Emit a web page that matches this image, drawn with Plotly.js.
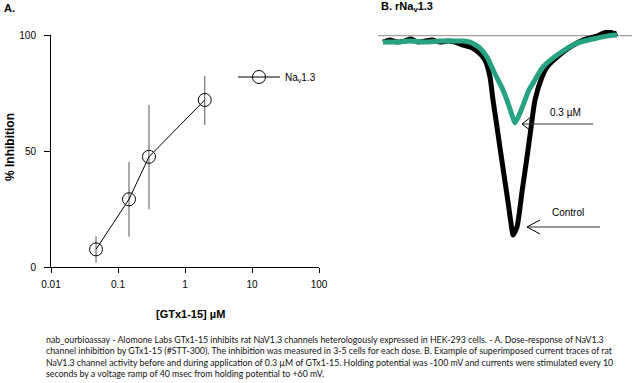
<!DOCTYPE html>
<html>
<head>
<meta charset="utf-8">
<script src="https://cdn.plot.ly/plotly-3.0.1.min.js"></script>
<style>html,body{margin:0;padding:0;background:#fff}#chart{width:632px;height:383px}</style>
</head>
<body>
<div id="chart"></div>
<script>
// ---- Panel A: dose-response ----
const doseConc = [0.047, 0.146, 0.29, 1.97];          // µM
const doseInhib = [7.6, 29.2, 47.5, 72.0];            // % inhibition
const doseErrPlus = [5.6, 16.0, 22.3, 10.3];
const doseErrMinus = [5.7, 16.1, 22.6, 10.8];
const xTickVals = [0.01, 0.1, 1, 10, 100];
const xTickText = ['0.01', '0.1', '1', '10', '100'];
const yTickVals = [0, 50, 100];
const yTickText = ['0', '50', '100'];
const seriesName = 'Na<sub>v</sub>1.3';

// ---- Panel B: current traces (time in ms, current normalised to control peak) ----
const controlT = [1.0,2.4,3.8,5.2,6.6,8.0,9.4,10.8,12.4,14.0,15.4,17.0,18.4,19.8,21.4,22.4,23.0,23.8,24.4,25.0,26.0,26.8,27.0,27.8,28.8,29.8,30.6,31.4,32.8,33.8,35.8,38.4,41.0,43.8,45.2,46.4,47.2,47.8];
const controlI = [-0.032,-0.022,-0.032,-0.027,-0.017,-0.032,-0.027,-0.022,-0.032,-0.027,-0.032,-0.047,-0.057,-0.077,-0.122,-0.207,-0.323,-0.458,-0.563,-0.664,-0.834,-0.975,-1.0,-0.960,-0.784,-0.609,-0.463,-0.323,-0.207,-0.157,-0.107,-0.057,-0.022,-0.002,0.014,0.019,0.009,0.014];
const toxinT = [1.0,3.4,6.4,9.4,12.4,15.4,17.0,18.4,20.4,21.8,23.2,25.0,26.0,26.8,27.4,28.4,29.4,30.2,31.4,33.0,36.4,39.8,43.8,45.8,47.8];
const toxinI = [-0.032,-0.032,-0.027,-0.032,-0.027,-0.027,-0.027,-0.032,-0.062,-0.107,-0.182,-0.272,-0.338,-0.398,-0.438,-0.388,-0.323,-0.272,-0.222,-0.157,-0.087,-0.037,-0.012,-0.002,0.003];
const zeroT = [0, 50.8];
const zeroI = [0, 0];
const traceLabels = ['0.3 µM', 'Control'];

const W = 632, H = 383;
const px = v => v / W;
const py = v => 1 - v / H;

const narrow = 'Liberation Sans Narrow, Arial Narrow, Liberation Sans, Arial, sans-serif';
const arial = 'Liberation Sans, Arial, sans-serif';

const traces = [
  {
    x: doseConc, y: doseInhib, type: 'scatter', mode: 'lines+markers', name: seriesName,
    xaxis: 'x', yaxis: 'y',
    line: {color: '#000', width: 1},
    marker: {symbol: 'circle-open', size: 13, color: '#000', line: {width: 1, color: '#000'}},
    error_y: {type: 'data', symmetric: false, array: doseErrPlus, arrayminus: doseErrMinus,
              color: '#555', thickness: 1, width: 0},
    showlegend: true
  },
  {
    x: zeroT, y: zeroI, type: 'scatter', mode: 'lines', xaxis: 'x2', yaxis: 'y2',
    line: {color: '#8a8a8a', width: 1}, showlegend: false, hoverinfo: 'skip'
  },
  {
    x: controlT, y: controlI, type: 'scatter', mode: 'lines', name: 'Control', xaxis: 'x2', yaxis: 'y2',
    line: {color: '#000', width: 5, shape: 'spline', smoothing: 0.6}, showlegend: false
  },
  {
    x: toxinT, y: toxinI, type: 'scatter', mode: 'lines', name: '0.3 µM', xaxis: 'x2', yaxis: 'y2',
    line: {color: '#27a283', width: 5, shape: 'spline', smoothing: 0.6}, showlegend: false
  }
];

// arrows anchored at trace minima
function minOf(t, i) {
  let k = 0;
  for (let j = 1; j < i.length; j++) if (i[j] < i[k]) k = j;
  return [t[k], i[k]];
}
const [tcMin, icMin] = minOf(controlT, controlI);
const [ttMin, itMin] = minOf(toxinT, toxinI);
const ux = 0.2, uy = 1 / 199.3; // data units per pixel in panel B
function arrow(tipT, tipI, endT, armX, armY) {
  const base = {type: 'path', xref: 'x2', yref: 'y2', line: {color: '#000', width: 1}};
  return [
    Object.assign({}, base, {path: `M${tipT},${tipI} L${endT},${tipI}`, line: {color: '#333', width: 1}}),
    Object.assign({}, base, {path: `M${tipT + armX * ux},${tipI + armY * uy} L${tipT},${tipI} L${tipT + armX * ux},${tipI - armY * uy}`})
  ];
}
const shapes = [
  ...arrow(ttMin + 7 * ux, itMin - 1 * uy, ttMin + 78 * ux, 9, 7),
  ...arrow(tcMin + 14 * ux, icMin + 8 * uy, tcMin + 87 * ux, 13, 7)
];

const annotations = [
  {text: '<b>A.</b>', xref: 'paper', yref: 'paper', x: px(2), y: py(8), xanchor: 'left', yanchor: 'middle',
   showarrow: false, font: {family: arial, size: 11, color: '#000'}},
  {text: '<b>B. rNa<sub>v</sub>1.3</b>', xref: 'paper', yref: 'paper', x: px(379), y: py(7), xanchor: 'left', yanchor: 'middle',
   showarrow: false, font: {family: arial, size: 11, color: '#000'}},
  {text: '<b>% Inhibition</b>', xref: 'paper', yref: 'paper', x: px(10), y: py(147), xanchor: 'center', yanchor: 'middle',
   textangle: -90, showarrow: false, font: {family: arial, size: 12, color: '#000'}},
  {text: '<b>[GTx1-15] µM</b>', xref: 'paper', yref: 'paper', x: px(190), y: py(314), xanchor: 'center', yanchor: 'middle',
   showarrow: false, font: {family: arial, size: 11, color: '#000'}},
  {text: traceLabels[0], xref: 'x2', yref: 'y2', x: ttMin + 50 * ux, y: itMin + 10 * uy, xanchor: 'center', yanchor: 'middle',
   showarrow: false, font: {family: narrow, size: 10, color: '#000'}},
  {text: traceLabels[1], xref: 'x2', yref: 'y2', x: tcMin + 55 * ux, y: icMin + 22 * uy, xanchor: 'center', yanchor: 'middle',
   showarrow: false, font: {family: narrow, size: 10, color: '#000'}},
  {text: 'nab_ourbioassay - Alomone Labs GTx1-15 inhibits rat NaV1.3 channels heterologously expressed in HEK-293 cells. - A. Dose-response of NaV1.3<br>' +
         'channel inhibition by GTx1-15 (#STT-300). The inhibition was measured in 3-5 cells for each dose. B. Example of superimposed current traces of rat<br>' +
         'NaV1.3 channel activity before and during application of 0.3 µM of GTx1-15. Holding potential was -100 mV and currents were stimulated every 10<br>' +
         'seconds by a voltage ramp of 40 msec from holding potential to +60 mV.',
   xref: 'paper', yref: 'paper', x: px(44), y: py(332), xanchor: 'left', yanchor: 'top', align: 'left',
   showarrow: false, font: {family: 'Lato, sans-serif', size: 8.8, color: '#111'}}
];

const layout = {
  width: W, height: H,
  margin: {l: 0, r: 0, t: 0, b: 0},
  paper_bgcolor: '#fff', plot_bgcolor: 'rgba(0,0,0,0)',
  showlegend: true,
  legend: {x: px(233), y: py(77), xanchor: 'left', yanchor: 'middle', bgcolor: 'rgba(0,0,0,0)',
           itemwidth: 42, font: {family: narrow, size: 10, color: '#000'}},
  xaxis: {
    type: 'log', range: [-2, 2], domain: [px(51), px(319)], anchor: 'y',
    showline: true, linecolor: '#000', linewidth: 1, showgrid: false, zeroline: false,
    ticks: 'outside', ticklen: 5, tickcolor: '#000', tickwidth: 1,
    tickmode: 'array', tickvals: xTickVals, ticktext: xTickText, ticklabelstandoff: 3,
    tickfont: {family: narrow, size: 10, color: '#000'}
  },
  yaxis: {
    range: [0, 100], domain: [py(267), py(35)], anchor: 'x',
    showline: true, linecolor: '#000', linewidth: 1, showgrid: false, zeroline: false,
    ticks: 'outside', ticklen: 6, tickcolor: '#000', tickwidth: 1,
    tickmode: 'array', tickvals: yTickVals, ticktext: yTickText, ticklabelstandoff: 6,
    tickfont: {family: narrow, size: 10, color: '#000'}
  },
  xaxis2: {domain: [px(378), 1], range: [0, 50.8], anchor: 'y2', visible: false, showgrid: false, zeroline: false},
  yaxis2: {domain: [py(250), py(30)], range: [-(250 - 35.7) / 199.3, (35.7 - 30) / 199.3], anchor: 'x2', visible: false, showgrid: false, zeroline: false},
  shapes: shapes,
  annotations: annotations
};

Plotly.newPlot('chart', traces, layout, {staticPlot: true, displayModeBar: false});
</script>
</body>
</html>
